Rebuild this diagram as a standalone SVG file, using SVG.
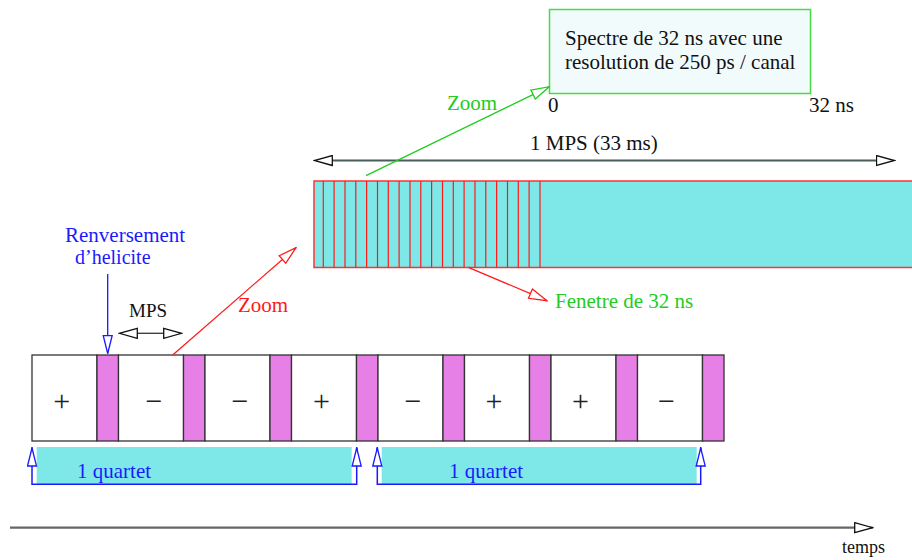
<svg xmlns="http://www.w3.org/2000/svg" width="912" height="560" viewBox="0 0 912 560">
<style>
text { font-family: "Liberation Serif", "Times New Roman", serif; font-size: 21px; fill: #111; }
.blue { fill: #1a1aff; }
.green { fill: #22cc22; }
.red { fill: #ff1a1a; }
.wbox { fill: #ffffff; stroke: #333; stroke-width: 1.3; }
.pbox { fill: #e680e6; stroke: #333; stroke-width: 1.3; }
.cyan { fill: #7ee8e8; }
.sign { text-anchor: middle; font-size: 30px; fill: #222; }
</style>
<defs>
<marker id="ahK" markerUnits="userSpaceOnUse" markerWidth="20" markerHeight="12" refX="18" refY="5" orient="auto-start-reverse" viewBox="-1 -1 20 12">
<path d="M0,0 L18,5 L0,10 z" fill="#fff" stroke="#111" stroke-width="1.3"/>
</marker>
<marker id="ahB" markerUnits="userSpaceOnUse" markerWidth="20" markerHeight="12" refX="18" refY="4.5" orient="auto" viewBox="-1 -1 20 12">
<path d="M0,0 L18,4.5 L0,9 z" fill="#fff" stroke="#1a1aff" stroke-width="1.3"/>
</marker>
<marker id="ahR" markerUnits="userSpaceOnUse" markerWidth="20" markerHeight="12" refX="18" refY="5" orient="auto" viewBox="-1 -1 20 12">
<path d="M0,0 L18,5 L0,10 z" fill="#fff" stroke="#ff1a1a" stroke-width="1.3"/>
</marker>
<marker id="ahG" markerUnits="userSpaceOnUse" markerWidth="20" markerHeight="12" refX="18" refY="5" orient="auto" viewBox="-1 -1 20 12">
<path d="M0,0 L18,5 L0,10 z" fill="#fff" stroke="#22cc22" stroke-width="1.3"/>
</marker>
</defs>

<!-- Spectrum box -->
<g id="spectre">
<rect x="549.5" y="9.5" width="261" height="84" fill="#f2fbfc" stroke="#44dd44" stroke-width="1.5"/>
<text x="565" y="45">Spectre de 32 ns avec une</text>
<text x="565" y="69">resolution de 250 ps / canal</text>
<text x="548" y="112">0</text>
<text x="809" y="112">32 ns</text>
</g>

<!-- MPS zoomed strip -->
<g id="mps-strip">
<rect x="314" y="181" width="610" height="86.5" fill="#7ee8e8" stroke="#ff3333" stroke-width="1.5"/>
<g stroke="#ff1a1a" stroke-width="1.2">
<line x1="323.3" y1="181" x2="323.3" y2="267.5"/>
<line x1="334.1" y1="181" x2="334.1" y2="267.5"/>
<line x1="345.0" y1="181" x2="345.0" y2="267.5"/>
<line x1="355.8" y1="181" x2="355.8" y2="267.5"/>
<line x1="366.6" y1="181" x2="366.6" y2="267.5"/>
<line x1="377.5" y1="181" x2="377.5" y2="267.5"/>
<line x1="388.3" y1="181" x2="388.3" y2="267.5"/>
<line x1="399.1" y1="181" x2="399.1" y2="267.5"/>
<line x1="410.0" y1="181" x2="410.0" y2="267.5"/>
<line x1="420.8" y1="181" x2="420.8" y2="267.5"/>
<line x1="431.6" y1="181" x2="431.6" y2="267.5"/>
<line x1="442.5" y1="181" x2="442.5" y2="267.5"/>
<line x1="453.3" y1="181" x2="453.3" y2="267.5"/>
<line x1="464.1" y1="181" x2="464.1" y2="267.5"/>
<line x1="475.0" y1="181" x2="475.0" y2="267.5"/>
<line x1="485.8" y1="181" x2="485.8" y2="267.5"/>
<line x1="496.6" y1="181" x2="496.6" y2="267.5"/>
<line x1="507.5" y1="181" x2="507.5" y2="267.5"/>
<line x1="518.3" y1="181" x2="518.3" y2="267.5"/>
<line x1="529.1" y1="181" x2="529.1" y2="267.5"/>
<line x1="540.0" y1="181" x2="540.0" y2="267.5"/>
</g>
<text x="530" y="150">1 MPS (33 ms)</text>
</g>

<!-- Helicity sequence -->
<g id="sequence">
<rect class="wbox" x="32" y="355" width="65" height="86"/>
<rect class="pbox" x="97" y="355" width="21.5" height="86"/>
<rect class="wbox" x="118.5" y="355" width="65" height="86"/>
<rect class="pbox" x="183.5" y="355" width="21.5" height="86"/>
<rect class="wbox" x="205" y="355" width="65" height="86"/>
<rect class="pbox" x="270" y="355" width="21.5" height="86"/>
<rect class="wbox" x="291.5" y="355" width="65" height="86"/>
<rect class="pbox" x="356.5" y="355" width="21.5" height="86"/>
<rect class="wbox" x="378" y="355" width="65" height="86"/>
<rect class="pbox" x="443" y="355" width="21.5" height="86"/>
<rect class="wbox" x="464.5" y="355" width="65" height="86"/>
<rect class="pbox" x="529.5" y="355" width="21.5" height="86"/>
<rect class="wbox" x="551" y="355" width="65" height="86"/>
<rect class="pbox" x="616" y="355" width="21.5" height="86"/>
<rect class="wbox" x="637.5" y="355" width="65" height="86"/>
<rect class="pbox" x="702.5" y="355" width="21.5" height="86"/>
<text class="sign" x="61.7" y="411">+</text>
<text class="sign" x="154" y="411">−</text>
<text class="sign" x="240" y="411">−</text>
<text class="sign" x="321.5" y="411">+</text>
<text class="sign" x="413" y="411">−</text>
<text class="sign" x="494" y="411">+</text>
<text class="sign" x="580.5" y="411">+</text>
<text class="sign" x="666.5" y="411">−</text>
</g>

<!-- Quartets -->
<g id="quartet1">
<rect class="cyan" x="36.7" y="447" width="315" height="37"/>
<text class="blue" x="77" y="478">1 quartet</text>
</g>
<g id="quartet2">
<rect class="cyan" x="381.7" y="447" width="315" height="37"/>
<text class="blue" x="449" y="478">1 quartet</text>
</g>

<!-- Labels -->
<g id="helicite">
<text class="blue" x="65" y="242">Renversement</text>
<text class="blue" x="75" y="264" style="font-size:20px">d’helicite</text>
</g>
<g id="mps-label">
<text x="129" y="317" style="font-size:19px">MPS</text>
</g>
<g id="zoom-red"><text class="red" x="238" y="312">Zoom</text></g>
<g id="zoom-green"><text class="green" x="447" y="110">Zoom</text></g>
<g id="fenetre"><text class="green" x="555" y="308">Fenetre de 32 ns</text></g>
<g id="temps"><text x="842" y="553" style="font-size:18px">temps</text></g>

<!-- Connectors -->
<g id="connectors" fill="none">
<line x1="332" y1="160.5" x2="876" y2="160.5" stroke="#4a5c5c" stroke-width="2"/>
<path d="M314.3,160.5 L894.5,160.5" stroke="none" marker-start="url(#ahK)" marker-end="url(#ahK)"/>
<line x1="136" y1="333.3" x2="164" y2="333.3" stroke="#333" stroke-width="1.3"/>
<path d="M119.3,333.3 L181.7,333.3" stroke="none" marker-start="url(#ahK)" marker-end="url(#ahK)"/>
<line x1="10" y1="527.7" x2="872.7" y2="527.7" stroke="#666" stroke-width="2.2" marker-end="url(#ahK)"/>
<line x1="107.7" y1="274" x2="107.7" y2="353.5" stroke="#1a1aff" stroke-width="1.3" marker-end="url(#ahB)"/>
<line x1="172.7" y1="355" x2="296" y2="247.7" stroke="#ff1a1a" stroke-width="1.3" marker-end="url(#ahR)"/>
<line x1="468.3" y1="267.3" x2="547" y2="300.7" stroke="#ff1a1a" stroke-width="1.3" marker-end="url(#ahR)"/>
<line x1="366" y1="175.7" x2="549.3" y2="86.7" stroke="#22cc22" stroke-width="1.3" marker-end="url(#ahG)"/>
<path d="M32,447 L32,484.3 L356.7,484.3 L356.7,447" stroke="#1a1aff" stroke-width="1.5"/>
<path d="M32,466 L32,448" stroke="#1a1aff" stroke-width="1.5" marker-end="url(#ahB)"/>
<path d="M356.7,466 L356.7,448" stroke="#1a1aff" stroke-width="1.5" marker-end="url(#ahB)"/>
<path d="M377.3,447 L377.3,484.3 L700.7,484.3 L700.7,447" stroke="#1a1aff" stroke-width="1.5"/>
<path d="M377.3,466 L377.3,448" stroke="#1a1aff" stroke-width="1.5" marker-end="url(#ahB)"/>
<path d="M700.7,466 L700.7,448" stroke="#1a1aff" stroke-width="1.5" marker-end="url(#ahB)"/>
</g>
</svg>
